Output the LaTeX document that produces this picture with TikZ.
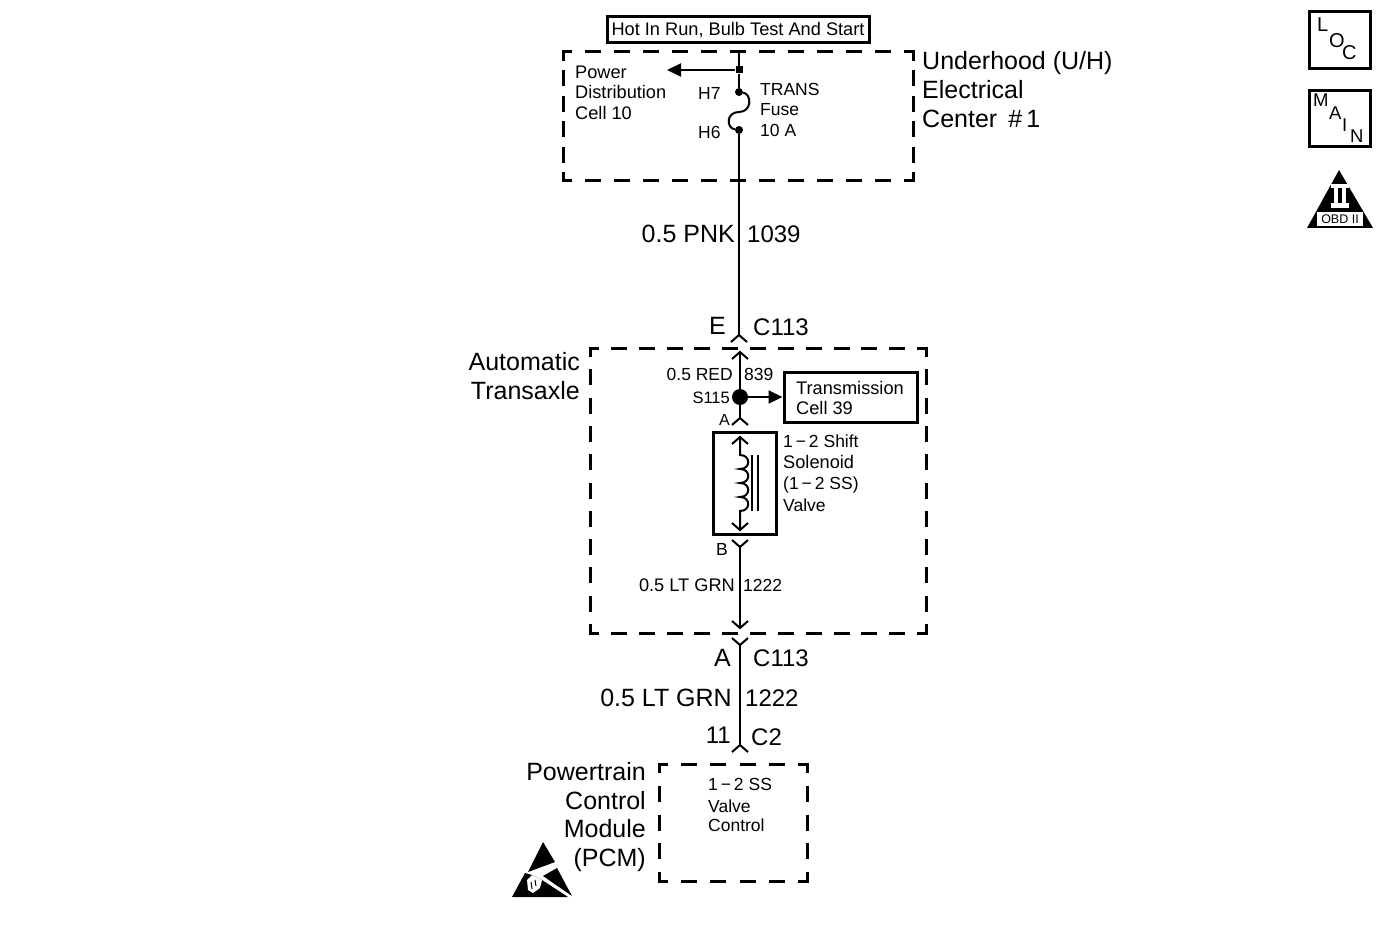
\documentclass[tikz,border=0pt]{standalone}
\usepackage{fontspec}
\setmainfont{Liberation Sans}
\usetikzlibrary{arrows.meta}
\tikzset{
 lg/.style={font=\fontsize{25}{29}\selectfont,anchor=base west,inner sep=0pt,align=left},
 lgn/.style={lg,font=\fontsize{24}{29}\selectfont},
 md/.style={font=\fontsize{18.2}{21}\selectfont,anchor=base west,inner sep=0pt,align=left},
 mdn/.style={md,font=\fontsize{17.5}{21}\selectfont},
 ic/.style={md,font=\fontsize{20}{21}\selectfont},
 lgr/.style={lg,anchor=base east,align=right},
 lgnr/.style={lgn,anchor=base east,align=right},
 mdr/.style={md,anchor=base east,align=right},
 mdnr/.style={mdn,anchor=base east,align=right},
 sbox/.style={draw,line width=3pt,inner sep=0pt},
 wire/.style={line width=2pt},
 solid tip/.style={-{Triangle[length=14pt,width=13pt]},line width=2pt},
 pin/.style={circle,fill=black,inner sep=0pt,minimum size=8pt},
 chev/.style={line width=2pt,line join=miter},
}
\newcommand{\chevup}[2]{\draw[chev] (#1-8,#2+7) -- (#1,#2) -- (#1+8,#2+7);}
\newcommand{\chevdn}[2]{\draw[chev] (#1-8,#2-7) -- (#1,#2) -- (#1+8,#2-7);}
% one dashed side: from, to, length, number of dashes
\newcommand{\dside}[4]{%
  \pgfmathsetmacro{\dgap}{(#3-18-16*#4)/(#4+1)}%
  \draw[line width=3pt,dash pattern=on 16pt off \dgap pt,dash phase=7pt] #1 -- #2;}
\newcommand{\dbx}[6]{%
  \dside{(#1,#2)}{(#3,#2)}{(#3-#1)}{#5}
  \dside{(#1,#4)}{(#3,#4)}{(#3-#1)}{#5}
  \dside{(#1,#2)}{(#1,#4)}{(#4-#2)}{#6}
  \dside{(#3,#2)}{(#3,#4)}{(#4-#2)}{#6}
  \foreach \cx in {#1,#3} \foreach \cy in {#2,#4} \fill (\cx-1.5,\cy-1.5) rectangle +(3,3);}
\begin{document}
\begin{tikzpicture}[x=1pt,y=-1pt]
\useasboundingbox (0,0) rectangle (1380,933);
% dashed boxes
\dbx{563}{52}{913}{181}{11}{4}
\dbx{590}{348}{926}{633}{11}{9}
\dbx{659}{764}{807}{881}{4}{3}
% top label
\node[sbox,minimum width=262pt,minimum height=26pt,font=\fontsize{18.2}{21}\selectfont] (hot) at (738,30) {\raisebox{-1pt}{Hot In Run, Bulb Test And Start}};
% U/H
\coordinate (top) at (739,52);
\node[pin,minimum size=7pt,rectangle] (tee) at (739,70) {};
\node[pin] (h7) at (739,92) {};
\node[pin] (h6) at (739,130) {};
\coordinate (pd) at (667,70);
\coordinate (e) at (739,335);
\draw[wire] (top) -- (tee) -- (h7);
\draw[solid tip] (tee) -- (pd);
\draw[wire] (h7) .. controls (752,94) and (752,112) .. (739,112) .. controls (726,112) and (726,128) .. (h6);
\draw[wire] (h6) -- (e);
\chevup{739}{335}
\node[md] at (575,79) {Power};
\node[md] at (575,99) {Distribution};
\node[md] at (575,120) {Cell 10};
\node[mdn] at (698,100) {H7};
\node[mdn] at (698,139) {H6};
\node[mdn] at (760,96) {TRANS};
\node[mdn] at (760,116) {Fuse};
\node[mdn] at (760,137) {10 A};
\node[lg] at (922,70) {Underhood (U/H)};
\node[lg] at (922,99) {Electrical};
\node[lg] at (922,128) {Center \,\#\,1};
\node[lgr] at (735,243) {0.5 PNK};
\node[lgn] at (747,243) {1039};
\node[lgr] at (726,334) {E};
\node[lgn] at (753,335) {C113};
% transaxle
\node[lgr] at (580,370) {Automatic};
\node[lgr] at (580,399) {Transaxle};
\node[pin,minimum size=16pt] (s115) at (740,397) {};
\coordinate (up) at (740,352);
\coordinate (a) at (740,418);
\draw[wire] (up) -- (s115) -- (a);
\chevup{740}{352}
\chevup{740}{418}
\node[sbox,minimum width=133pt,minimum height=50pt] (tr) at (850.5,397) {};
\draw[solid tip] (s115) -- (tr.west);
\node[md] at (796,394) {Transmission};
\node[md] at (796,414) {Cell 39};
\node[mdnr] at (733,380) {0.5 RED};
\node[mdn] at (744,380) {839};
\node[mdnr,font=\fontsize{16.5}{20}\selectfont] at (730,403) {S115};
\node[md,font=\fontsize{16}{20}\selectfont] at (719,425) {A};
\node[sbox,minimum width=63pt,minimum height=102pt] (sol) at (744.5,483) {};
% solenoid
\coordinate (s1) at (740,437);
\coordinate (s2) at (740,530);
\draw[wire] (s1) -- (740,455)
  .. controls (751,455) and (751,469) .. (740,469)
  .. controls (751,469) and (751,483) .. (740,483)
  .. controls (751,483) and (751,497) .. (740,497)
  .. controls (751,497) and (751,511) .. (740,511) -- (s2);
\chevup{740}{437}
\chevdn{740}{530}
\draw[wire] (752,455) -- (752,511);
\draw[wire] (758,455) -- (758,511);
\node[mdn] at (783,447) {1\,−\,2 Shift};
\node[md] at (783,468) {Solenoid};
\node[mdn] at (783,489) {(1\,−\,2 SS)};
\node[mdn] at (783,511) {Valve};
\node[mdn] at (716,555) {B};
\coordinate (b) at (740,547);
\coordinate (dn) at (740,628);
\draw[wire] (b) -- (dn);
\chevdn{740}{547}
\chevdn{740}{628}
\node[mdr] at (735,591) {0.5 LT GRN};
\node[mdn] at (743,591) {1222};
% lower
\coordinate (a2) at (740,645);
\coordinate (c2) at (740,745);
\draw[wire] (a2) -- (c2);
\chevdn{740}{645}
\chevup{740}{745}
\node[lgr] at (731,666) {A};
\node[lgn] at (753,666) {C113};
\node[lgr] at (732,706) {0.5 LT GRN};
\node[lgn] at (745,706) {1222};
\node[lgnr] at (731,743) {11};
\node[lgn] at (751,745) {C2};
% PCM
\node[lgr] at (646,780) {Powertrain};
\node[lgr] at (646,809) {Control};
\node[lgr] at (646,837) {Module};
\node[lgr] at (646,866) {(PCM)};
\node[mdn] at (708,790) {1\,−\,2 SS};
\node[mdn] at (708,812) {Valve};
\node[mdn] at (708,831) {Control};
% ESD
\fill (543,842) -- (555,862) -- (528,872) -- cycle;
\fill (557,868) -- (572,896) -- (543,876) -- cycle;
\fill (525,873) -- (512,897) -- (568,897) -- (542,880) -- (532,875) -- cycle;
\fill[white] (527,880) -- (532,875) -- (542,880) -- (540,888) -- (533,893) -- (528,890) -- cycle;
\draw[line width=1pt] (531,882) -- (532,889) (535,880) -- (536,886);
% icons
\node[sbox,minimum width=61pt,minimum height=57pt] (loc) at (1339.5,40.5) {};
\node[sbox,minimum width=61pt,minimum height=56pt] (main) at (1339.5,119) {};
\node[ic] at (1317,32) {L};
\node[ic] at (1329,48) {O};
\node[ic] at (1342,60) {C};
\node[ic,font=\fontsize{18.5}{21}\selectfont] at (1313,107) {M};
\node[ic,font=\fontsize{18.5}{21}\selectfont] at (1329,120) {A};
\node[ic,font=\fontsize{18.5}{21}\selectfont] at (1342,132) {I};
\node[ic,font=\fontsize{18.5}{21}\selectfont] at (1350,143) {N};
\fill (1339,170) -- (1373,228) -- (1307,228) -- cycle;
\fill[white] (1331,184) rectangle (1349,188);
\fill[white] (1331,203) rectangle (1349,208);
\fill[white] (1334,188) rectangle (1338,203);
\fill[white] (1342,188) rectangle (1346,203);
\node[fill=white,inner sep=0pt,minimum width=46pt,minimum height=14pt,font=\fontsize{12.5}{13}\selectfont] (obd) at (1340,219) {OBD II};
\end{tikzpicture}
\end{document}
